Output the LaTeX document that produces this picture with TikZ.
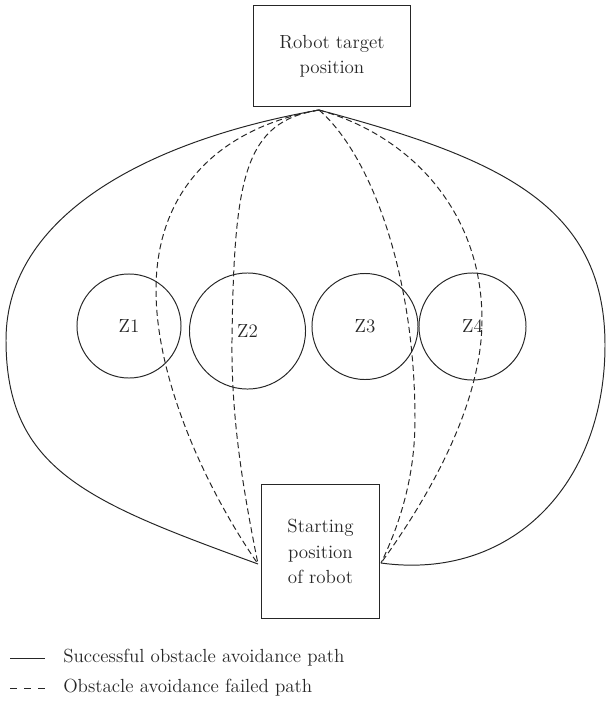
\documentclass[tikz,border=0pt]{standalone}
\begin{document}
\begin{tikzpicture}[x=0.025cm,y=-0.025cm,
		every node/.style={font=\fontsize{13.5}{18}\selectfont, text=black!85},
		box/.style={draw=black!85, line width=0.7pt, align=center, inner sep=0pt},
		zone/.style={draw=black!85, circle, line width=0.7pt, inner sep=0pt},
		sucpath/.style={draw=black!85, line width=0.7pt},
		failpath/.style={draw=black!85, line width=0.7pt, dash pattern=on 4.3pt off 2.5pt}]
				\useasboundingbox (0,0) rectangle (607,705);
				\node [box, minimum width=3.9cm, minimum height=2.5cm] (target) at (332,56) {Robot target\\position};
				\node [box, minimum width=2.925cm, minimum height=3.325cm] (start) at (320.5,551.5) {Starting\\position\\of robot};
				\node [zone, minimum size=2.6cm] (z1) at (129,326) {Z1};
				\node [zone, minimum size=2.9cm] (z2) at (247.5,331) {Z2};
				\node [zone, minimum size=2.65cm] (z3) at (365,326.5) {Z3};
				\node [zone, minimum size=2.675cm] (z4) at (472.5,326.5) {Z4};
				\coordinate (tp) at (319,110);
				\coordinate (sl) at (258,564);
				\coordinate (sr) at (381,563);
				
				\draw [sucpath] (tp) .. controls (149,140) and (6,215) .. (6,340) .. controls (6,470) and (88,502) .. (sl);
				\draw [sucpath] (tp) .. controls (499,158) and (605,205) .. (605,345) .. controls (605,485) and (511,581) .. (sr);
				\draw [failpath] (tp) .. controls (219,128) and (156,190) .. (156,290) .. controls (156,380) and (206,489) .. (sl);
				\draw [failpath] (tp) .. controls (245,122) and (234,175) .. (232,340) .. controls (231,420) and (244,494) .. (sl);
				\draw [failpath] (tp) .. controls (369,153) and (415,270) .. (415,420) .. controls (415,470) and (403,518) .. (sr);
				\draw [failpath] (tp) .. controls (409,135) and (482,210) .. (482,320) .. controls (482,400) and (434,490) .. (sr);
				
				\node [anchor=west, inner sep=0pt] (leg1) at (63,658) {Successful obstacle avoidance path};
				\node [anchor=west, inner sep=0pt] (leg2) at (63,688) {Obstacle avoidance failed path};
				\draw [sucpath] (10,658) -- (45,658);
				\draw [sucpath, dash pattern=on 5pt off 5pt] (10,688) -- (45,688);
			\end{tikzpicture}
\end{document}
